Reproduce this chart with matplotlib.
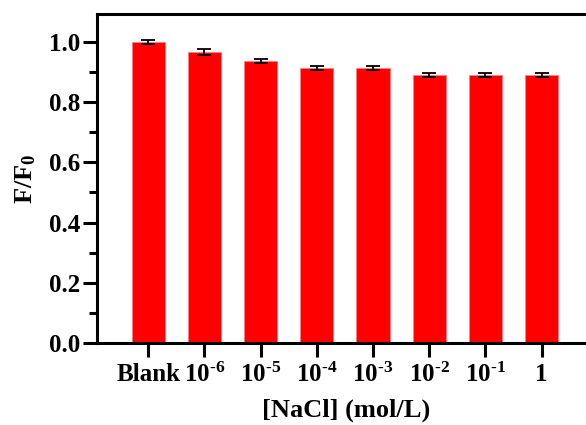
import numpy as np
import matplotlib.pyplot as plt

# relative fluorescence F/F0 at each NaCl concentration
labels = ['Blank', r'10$^{\text{-}6}$', r'10$^{\text{-}5}$', r'10$^{\text{-}4}$',
          r'10$^{\text{-}3}$', r'10$^{\text{-}2}$', r'10$^{\text{-}1}$', '1']
ratio = [1.000, 0.966, 0.938, 0.914, 0.914, 0.890, 0.890, 0.890]
err = [0.008, 0.010, 0.007, 0.006, 0.006, 0.006, 0.006, 0.006]

plt.rcParams['font.family'] = 'Liberation Serif'
plt.rcParams['font.weight'] = 'bold'
plt.rcParams['mathtext.fontset'] = 'custom'
plt.rcParams['mathtext.rm'] = 'Liberation Serif:bold'
plt.rcParams['mathtext.it'] = 'Liberation Serif:bold'
plt.rcParams['mathtext.bf'] = 'Liberation Serif:bold'

fig = plt.figure(figsize=(5.86, 4.25), dpi=100)
ax = fig.add_axes([0.1655, 0.193, 0.85, 0.774])

x = np.arange(len(labels))
ax.bar(x, ratio, width=0.59, color='#ff0000', edgecolor='#ff8080', linewidth=0.5,
       yerr=err, capsize=4.7, error_kw=dict(ecolor='black', elinewidth=1.3, capthick=1.3))

ax.set_xlim(-0.91, 7.95)
ax.set_ylim(0, 1.093)
ax.set_xticks(x)
ax.set_xticklabels(labels)
ax.set_yticks(np.arange(0, 1.01, 0.2))
ax.set_yticks(np.arange(0.1, 1.1, 0.2), minor=True)
ax.yaxis.set_major_formatter(plt.FormatStrFormatter('%.1f'))

for s in ax.spines.values():
    s.set_linewidth(2.2)
ax.spines['right'].set_visible(False)
ax.tick_params(axis='both', which='major', direction='out', length=10, width=2.2,
               labelsize=18, pad=2)
ax.tick_params(axis='x', which='major', pad=4.5)
ax.tick_params(axis='y', which='minor', direction='out', length=5.8, width=2.2)
ax.tick_params(axis='x', which='minor', bottom=False)

ax.set_xlabel('[NaCl] (mol/L)', fontsize=19, fontweight='bold', labelpad=8)
ax.set_ylabel(r'F/F$_0$', fontsize=19, fontweight='bold', labelpad=8)

fig.savefig('out.png', dpi=100)
